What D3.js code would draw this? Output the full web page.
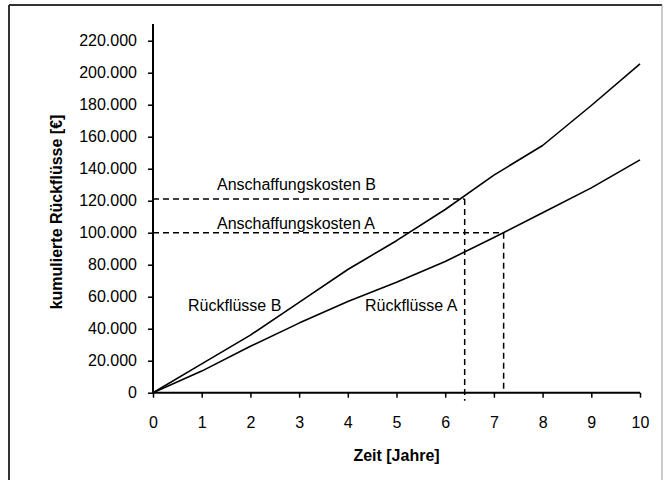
<!DOCTYPE html>
<html>
<head>
<meta charset="utf-8">
<script src="https://cdn.jsdelivr.net/npm/d3@7"></script>
<style>
  html, body { margin: 0; padding: 0; background: #fff; }
  text { font-family: "Liberation Sans", Arial, sans-serif; fill: #000; }
</style>
</head>
<body>
<svg id="chart" width="668" height="480"></svg>
<script>
// ---- data ----
const years = [0, 1, 2, 3, 4, 5, 6, 7, 8, 9, 10];
const rueckfluesseA = [0, 13500, 29000, 43500, 57000, 69000, 82000, 97000, 112500, 128000, 145500];
const rueckfluesseB = [0, 18000, 36000, 56500, 77000, 95000, 114500, 136000, 154500, 179500, 205500];
const anschaffungskosten = [100000, 121000];      // A, B
const amortisationszeit = [7.2, 6.4];             // A, B (Jahre)
const costLabels = ["Anschaffungskosten A", "Anschaffungskosten B"];
const seriesLabels = ["Rückflüsse A", "Rückflüsse B"];
const yTicks = [0, 20000, 40000, 60000, 80000, 100000, 120000, 140000, 160000, 180000, 200000, 220000];
const xTicks = [0, 1, 2, 3, 4, 5, 6, 7, 8, 9, 10];
const yTitle = "kumulierte Rückflüsse [€]";
const xTitle = "Zeit [Jahre]";

(function () {
// ---- layout ----
const svg = d3.select("#chart");
const pL = 153, pR = 640, pT = 40.7, pB = 392.7;
const x = d3.scaleLinear().domain([0, 10]).range([pL, pR]);
const y = d3.scaleLinear().domain([0, 220000]).range([pB, pT]);

// frame
svg.append("line").attr("x1", 9).attr("x2", 662).attr("y1", 5).attr("y2", 5)
  .attr("stroke", "#333").attr("stroke-width", 2);
svg.append("line").attr("x1", 9).attr("x2", 9).attr("y1", 5).attr("y2", 480)
  .attr("stroke", "#333").attr("stroke-width", 2);
svg.append("line").attr("x1", 662).attr("x2", 662).attr("y1", 5).attr("y2", 480)
  .attr("stroke", "#999").attr("stroke-width", 1);

const fmt = v => v === 0 ? "0" : d3.format(",")(v).replace(/,/g, ".");

// y axis
const yAxis = svg.append("g").attr("transform", `translate(${pL},0)`)
  .call(d3.axisLeft(y).tickValues(yTicks).tickFormat(fmt).tickSize(5).tickPadding(11));
yAxis.select(".domain").remove();
yAxis.append("line").attr("x1", 0).attr("x2", 0).attr("y1", 24).attr("y2", pB)
  .attr("stroke", "#000").attr("stroke-width", 2);
yAxis.selectAll(".tick line").attr("stroke", "#000").attr("stroke-width", 1.5);
yAxis.selectAll(".tick text").attr("font-size", 16).attr("font-family", "Liberation Sans, Arial, sans-serif").attr("fill", "#000");

// x axis
const xAxis = svg.append("g").attr("transform", `translate(0,${pB})`)
  .call(d3.axisBottom(x).tickValues(xTicks).tickFormat(d3.format("d")).tickSize(5).tickPadding(19));
xAxis.select(".domain").remove();
xAxis.append("line").attr("x1", pL).attr("x2", pR).attr("y1", 0).attr("y2", 0)
  .attr("stroke", "#000").attr("stroke-width", 2);
xAxis.selectAll(".tick line").attr("stroke", "#000").attr("stroke-width", 1.5);
xAxis.selectAll(".tick text").attr("font-size", 16).attr("font-family", "Liberation Sans, Arial, sans-serif").attr("fill", "#000");

// titles
svg.append("text").attr("transform", `translate(62,212) rotate(-90)`)
  .attr("text-anchor", "middle").attr("font-size", 16).attr("font-weight", "bold").text(yTitle);
svg.append("text").attr("x", (pL + pR) / 2).attr("y", 461)
  .attr("text-anchor", "middle").attr("font-size", 16).attr("font-weight", "bold").text(xTitle);

// dashed guides
const dash = "6,4";
anschaffungskosten.forEach((c, i) => {
  const t = amortisationszeit[i];
  svg.append("line").attr("x1", x(0)).attr("x2", x(t)).attr("y1", y(c)).attr("y2", y(c))
    .attr("stroke", "#000").attr("stroke-width", 1.5).attr("stroke-dasharray", dash);
  svg.append("line").attr("x1", x(t)).attr("x2", x(t)).attr("y1", y(c))
    .attr("y2", i === 1 ? y(0) + 8 : y(0))
    .attr("stroke", "#000").attr("stroke-width", 1.5).attr("stroke-dasharray", dash);
});

// series lines
const line = d3.line().x((d, i) => x(years[i])).y(d => y(d));
[rueckfluesseA, rueckfluesseB].forEach(s => {
  svg.append("path").datum(s).attr("d", line).attr("fill", "none")
    .attr("stroke", "#000").attr("stroke-width", 1.6).attr("stroke-linejoin", "round");
});

// labels
svg.append("text").attr("x", 217).attr("y", 190).attr("font-size", 16).text(costLabels[1]);
svg.append("text").attr("x", 217).attr("y", 229).attr("font-size", 16).text(costLabels[0]);
svg.append("text").attr("x", 188).attr("y", 311).attr("font-size", 16).text(seriesLabels[1]);
svg.append("text").attr("x", 365).attr("y", 311).attr("font-size", 16).text(seriesLabels[0]);
})();
</script>
</body>
</html>
